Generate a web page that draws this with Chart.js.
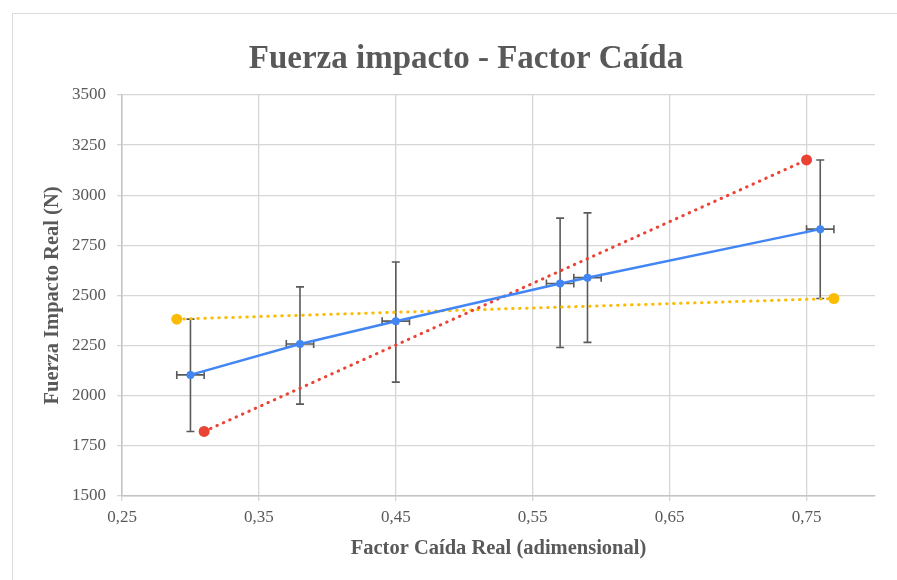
<!DOCTYPE html>
<html>
<head>
<meta charset="utf-8">
<script src="https://cdn.jsdelivr.net/npm/chart.js@4/dist/chart.umd.min.js"></script>
<style>
  html, body { margin: 0; padding: 0; background: #fff; overflow: hidden; width: 897px; height: 580px; }
  #frame { position: absolute; left: 12px; top: 13px; width: 1000px; height: 1000px;
           border-left: 1.5px solid #dcdcdc; border-top: 1.5px solid #dcdcdc; }
  #wrap { position: absolute; left: 0; top: 0; width: 897px; height: 580px; }
</style>
</head>
<body>
<div id="frame"></div>
<div id="wrap"><canvas id="chart" width="897" height="580"></canvas></div>
<script>
// Measured drop factor and impact force, with their uncertainty ranges
const factorCaida   = [0.30, 0.38, 0.45, 0.57, 0.59, 0.76];
const fuerzaImpacto = [2104, 2258, 2372, 2560, 2589, 2831];
const fuerzaMin     = [1822, 1958, 2068, 2241, 2266, 2485];
const fuerzaMax     = [2382, 2543, 2667, 2886, 2912, 3176];
const factorErr     = 0.01;

// Steepest and flattest lines through the error boxes
const rectaMaxX = [0.31, 0.75];
const rectaMaxY = [1822, 3176];
const rectaMinX = [0.29, 0.77];
const rectaMinY = [2382, 2485];

// Axis ticks
const xTicks = [0.25, 0.35, 0.45, 0.55, 0.65, 0.75];
const yTicks = [1500, 1750, 2000, 2250, 2500, 2750, 3000, 3250, 3500];

const titulo = 'Fuerza impacto - Factor Caída';
const tituloX = 'Factor Caída Real (adimensional)';
const tituloY = 'Fuerza Impacto Real (N)';

const SERIF = '"Liberation Serif", "Times New Roman", serif';
const TEXT = '#595959';

const toPoints = (xs, ys) => xs.map((x, i) => ({ x: x, y: ys[i] }));

// Vertical and horizontal error bars with end caps
const errorBars = {
  id: 'errorBars',
  beforeDatasetsDraw(chart) {
    const { ctx, scales: { x, y } } = chart;
    const cap = 4;
    ctx.save();
    ctx.strokeStyle = '#5a5a5a';
    ctx.lineWidth = 1.6;
    factorCaida.forEach((fx, i) => {
      const px = x.getPixelForValue(fx);
      const py = y.getPixelForValue(fuerzaImpacto[i]);
      const yTop = y.getPixelForValue(fuerzaMax[i]);
      const yBot = y.getPixelForValue(fuerzaMin[i]);
      const xL = x.getPixelForValue(fx - factorErr);
      const xR = x.getPixelForValue(fx + factorErr);
      ctx.beginPath();
      ctx.moveTo(px, yTop); ctx.lineTo(px, yBot);
      ctx.moveTo(px - cap, yTop); ctx.lineTo(px + cap, yTop);
      ctx.moveTo(px - cap, yBot); ctx.lineTo(px + cap, yBot);
      ctx.moveTo(xL, py); ctx.lineTo(xR, py);
      ctx.moveTo(xL, py - cap); ctx.lineTo(xL, py + cap);
      ctx.moveTo(xR, py - cap); ctx.lineTo(xR, py + cap);
      ctx.stroke();
    });
    ctx.restore();
  }
};

// Chart heading, centred on the card
const heading = {
  id: 'heading',
  afterDraw(chart) {
    const ctx = chart.ctx;
    ctx.save();
    ctx.font = 'bold 33px ' + SERIF;
    ctx.fillStyle = TEXT;
    ctx.textAlign = 'center';
    ctx.textBaseline = 'alphabetic';
    ctx.fillText(titulo, 466, 68);
    ctx.restore();
  }
};

new Chart(document.getElementById('chart'), {
  type: 'scatter',
  data: {
    datasets: [
      {
        label: 'Fuerza impacto',
        data: toPoints(factorCaida, fuerzaImpacto),
        showLine: true,
        borderColor: '#4285F4',
        backgroundColor: '#4285F4',
        borderWidth: 2.5,
        pointRadius: 4,
        pointBorderWidth: 0,
        order: 1
      },
      {
        label: 'Pendiente máxima',
        data: toPoints(rectaMaxX, rectaMaxY),
        showLine: true,
        borderColor: '#EA4335',
        backgroundColor: '#EA4335',
        borderWidth: 3,
        borderDash: [0.5, 6.5],
        borderCapStyle: 'round',
        pointRadius: 5.5,
        pointBorderWidth: 0,
        order: 2
      },
      {
        label: 'Pendiente mínima',
        data: toPoints(rectaMinX, rectaMinY),
        showLine: true,
        borderColor: '#FBBC04',
        backgroundColor: '#FBBC04',
        borderWidth: 3,
        borderDash: [0.5, 6.5],
        borderCapStyle: 'round',
        pointRadius: 5.5,
        pointBorderWidth: 0,
        order: 3
      }
    ]
  },
  options: {
    responsive: false,
    animation: false,
    devicePixelRatio: 1,
    layout: { padding: { top: 95, left: 35, right: 22, bottom: 0 } },
    plugins: {
      legend: { display: false },
      tooltip: { enabled: false },
      title: { display: false }
    },
    scales: {
      x: {
        type: 'linear',
        min: 0.25,
        max: 0.80,
        afterBuildTicks(scale) { scale.ticks = xTicks.map(v => ({ value: v })); },
        afterFit(scale) { scale.height = 84; },
        ticks: {
          color: TEXT,
          font: { family: SERIF, size: 17 },
          padding: 6,
          maxRotation: 0,
          callback: v => v.toFixed(2).replace('.', ',')
        },
        grid: { color: '#d6d6d6', lineWidth: 1.3, tickLength: 5, drawTicks: true },
        border: { color: '#c4c4c4', width: 1.5 },
        title: {
          display: true,
          text: tituloX,
          color: TEXT,
          font: { family: SERIF, size: 20.5, weight: 'bold' },
          padding: { top: 0, bottom: 18.5 }
        }
      },
      y: {
        type: 'linear',
        min: 1500,
        max: 3500,
        afterBuildTicks(scale) { scale.ticks = yTicks.map(v => ({ value: v })); },
        afterFit(scale) { scale.width = 87; },
        ticks: {
          color: TEXT,
          font: { family: SERIF, size: 17 },
          padding: 11,
          callback: v => String(v)
        },
        grid: { color: '#d6d6d6', lineWidth: 1.3, tickLength: 5, drawTicks: true },
        border: { color: '#c4c4c4', width: 1.5 },
        title: {
          display: true,
          text: tituloY,
          color: TEXT,
          font: { family: SERIF, size: 20.5, weight: 'bold' },
          padding: { top: 5, bottom: 0 }
        }
      }
    }
  },
  plugins: [errorBars, heading]
});
</script>
</body>
</html>
